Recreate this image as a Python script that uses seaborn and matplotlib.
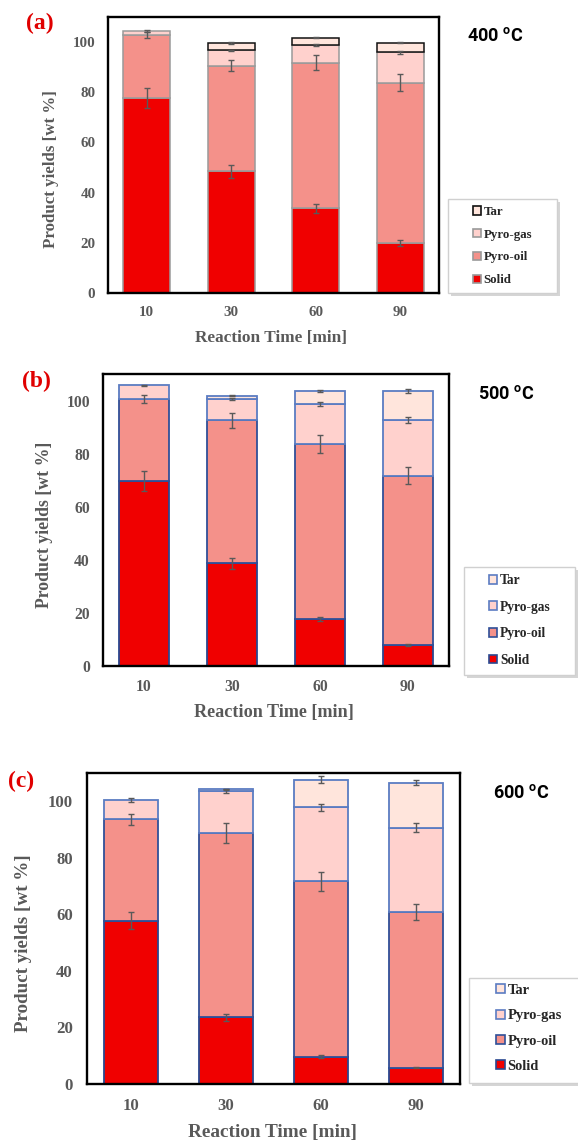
import numpy as np
import matplotlib
matplotlib.use("Agg")
import matplotlib.pyplot as plt
from matplotlib.patches import Patch, Rectangle
import seaborn as sns

# reaction times and product fractions (wt %)
times = ["10", "30", "60", "90"]
parts = ["Solid", "Pyro-oil", "Pyro-gas", "Tar"]
part_colors = ["#f00000", "#f4918a", "#ffd1cd", "#ffe5dc"]

# 400 C
solid_400 = [77.7, 48.5, 33.7, 19.8]
oil_400 = [25.1, 42.1, 58.1, 64.0]
gas_400 = [1.8, 6.1, 7.0, 12.1]
tar_400 = [0.0, 3.0, 2.9, 3.8]
solid_err_400 = [4.0, 2.6, 1.7, 1.2]
oil_err_400 = [1.2, 2.1, 2.9, 3.3]
gas_err_400 = [0.4, 0.3, 0.3, 0.5]
tar_err_400 = [0.0, 0.3, 0.2, 0.2]

# 500 C
solid_500 = [69.7, 38.7, 17.7, 7.8]
oil_500 = [30.9, 53.9, 66.0, 63.9]
gas_500 = [5.1, 7.9, 14.9, 20.9]
tar_500 = [0.0, 1.4, 5.0, 11.0]
solid_err_500 = [3.6, 2.1, 0.8, 0.3]
oil_err_500 = [1.5, 2.8, 3.3, 3.3]
gas_err_500 = [0.2, 0.3, 0.7, 1.1]
tar_err_500 = [0.0, 0.2, 0.2, 0.7]

# 600 C
solid_600 = [57.8, 23.6, 9.7, 5.7]
oil_600 = [35.8, 65.2, 62.0, 55.0]
gas_600 = [6.9, 14.9, 26.1, 30.0]
tar_600 = [0.0, 0.5, 9.9, 15.9]
solid_err_600 = [2.9, 1.2, 0.4, 0.2]
oil_err_600 = [1.9, 3.4, 3.3, 2.8]
gas_err_600 = [0.7, 0.8, 1.4, 1.6]
tar_err_600 = [0.0, 0.3, 1.1, 1.0]

W, H = 578, 1142
sns.set_style("white")
plt.rcParams["font.family"] = ["Liberation Serif", "DejaVu Serif"]
plt.rcParams["mathtext.fontset"] = "custom"
plt.rcParams["mathtext.rm"] = "Roboto:bold"

fig = plt.figure(figsize=(W / 100, H / 100), dpi=100)
gray = "#595959"


def px(x, y):
    return x / W, 1 - y / H


def panel(box, vals, errs, edges, lw, width, sc, tag, tag_xy, temp, temp_xy,
          xlab_xy, ylab_xy, leg_box, leg_xy, leg_sp):
    left, top, right, bottom = box
    ax = fig.add_axes([left / W, 1 - bottom / H, (right - left) / W, (bottom - top) / H])
    base = np.zeros(len(times))
    tops = []
    for v, col, ec in zip(vals, part_colors, edges):
        sns.barplot(x=times, y=v, bottom=base, color=col, saturation=1,
                    edgecolor=ec, linewidth=lw, width=width, errorbar=None, ax=ax)
        base = base + np.array(v)
        tops.append(base.copy())
    for p in ax.patches:
        if p.get_height() == 0:
            p.set_linewidth(0)
    for t, e in zip(tops, errs):
        e = np.array(e)
        m = e > 0
        ax.errorbar(np.arange(len(times))[m], t[m], yerr=e[m], fmt="none",
                    ecolor=gray, elinewidth=1, capsize=2.2, capthick=1, zorder=5)

    ax.set_ylim(0, 110)
    ax.set_yticks(range(0, 101, 20))
    ax.set_xlabel("")
    ax.set_ylabel("")
    ax.tick_params(length=0, labelsize=10.8 * sc, labelcolor=gray, pad=9 * sc)
    for lab in ax.get_xticklabels() + ax.get_yticklabels():
        lab.set_fontweight("bold")
    for s in ax.spines.values():
        s.set_color("black")
        s.set_linewidth(1.7)

    fig.text(*px(*xlab_xy), "Reaction Time [min]", ha="center", va="center",
             fontsize=12.4 * sc, fontweight="bold", color=gray)
    fig.text(*px(*ylab_xy), "Product yields [wt %]", ha="center", va="center",
             rotation=90, fontsize=12.2 * sc, fontweight="bold", color=gray)
    fig.text(*px(*tag_xy), tag, ha="left", va="center", fontsize=17,
             fontweight="bold", color="#e00000")
    fig.text(*px(*temp_xy), temp, ha="left", va="center", fontsize=13,
             fontweight="bold", family="Roboto", color="black")

    # legend frame with soft shadow
    x0, y0, x1, y1 = leg_box
    fig.add_artist(Rectangle(px(x0 + 3, y1 + 3), (x1 - x0) / W, (y1 - y0) / H,
                             transform=fig.transFigure, facecolor="#c4c4c4",
                             edgecolor="none", alpha=0.7, zorder=3))
    fig.add_artist(Rectangle(px(x0, y1), (x1 - x0) / W, (y1 - y0) / H,
                             transform=fig.transFigure, facecolor="white",
                             edgecolor="#d0d0d0", linewidth=1, zorder=4))
    handles = [Patch(facecolor=c, edgecolor=e, linewidth=1.2)
               for c, e in zip(part_colors, edges)][::-1]
    fig.legend(handles, parts[::-1], loc="upper left", bbox_to_anchor=px(*leg_xy),
               frameon=False, borderpad=0, borderaxespad=0, handlelength=0.6,
               handleheight=0.6, handletextpad=0.2, labelspacing=leg_sp,
               prop={"family": "Liberation Serif", "weight": "bold", "size": 9.3 * sc},
               labelcolor="#262626")
    return ax


gray_edges = ["#9a9a9a", "#9a9a9a", "#9a9a9a", "#111111"]
blue_edges = ["#2a4890", "#2f4f98", "#5b7cc2", "#5b7cc2"]

panel((108, 17, 439, 293),
      [solid_400, oil_400, gas_400, tar_400],
      [solid_err_400, oil_err_400, gas_err_400, tar_err_400],
      gray_edges, 1.1, 0.56, 1.0, "(a)", (26, 23), "400 $^{\\mathrm{o}}$C", (467, 36),
      (271, 338), (51, 169), (448, 199, 557, 293), (473, 206), 0.83)

panel((103, 374, 449, 666),
      [solid_500, oil_500, gas_500, tar_500],
      [solid_err_500, oil_err_500, gas_err_500, tar_err_500],
      blue_edges, 1.3, 0.575, 1.05, "(b)", (22, 381), "500 $^{\\mathrm{o}}$C", (478, 394),
      (274, 712), (45, 525), (464, 567, 575, 675), (489, 574), 1.0)

panel((87, 773, 460, 1084),
      [solid_600, oil_600, gas_600, tar_600],
      [solid_err_600, oil_err_600, gas_err_600, tar_err_600],
      blue_edges, 1.3, 0.57, 1.12, "(c)", (8, 781), "600 $^{\\mathrm{o}}$C", (493, 793),
      (272, 1133), (24, 943), (469, 978, 620, 1083), (496, 984), 0.85)

fig.savefig("out.png", dpi=100)
